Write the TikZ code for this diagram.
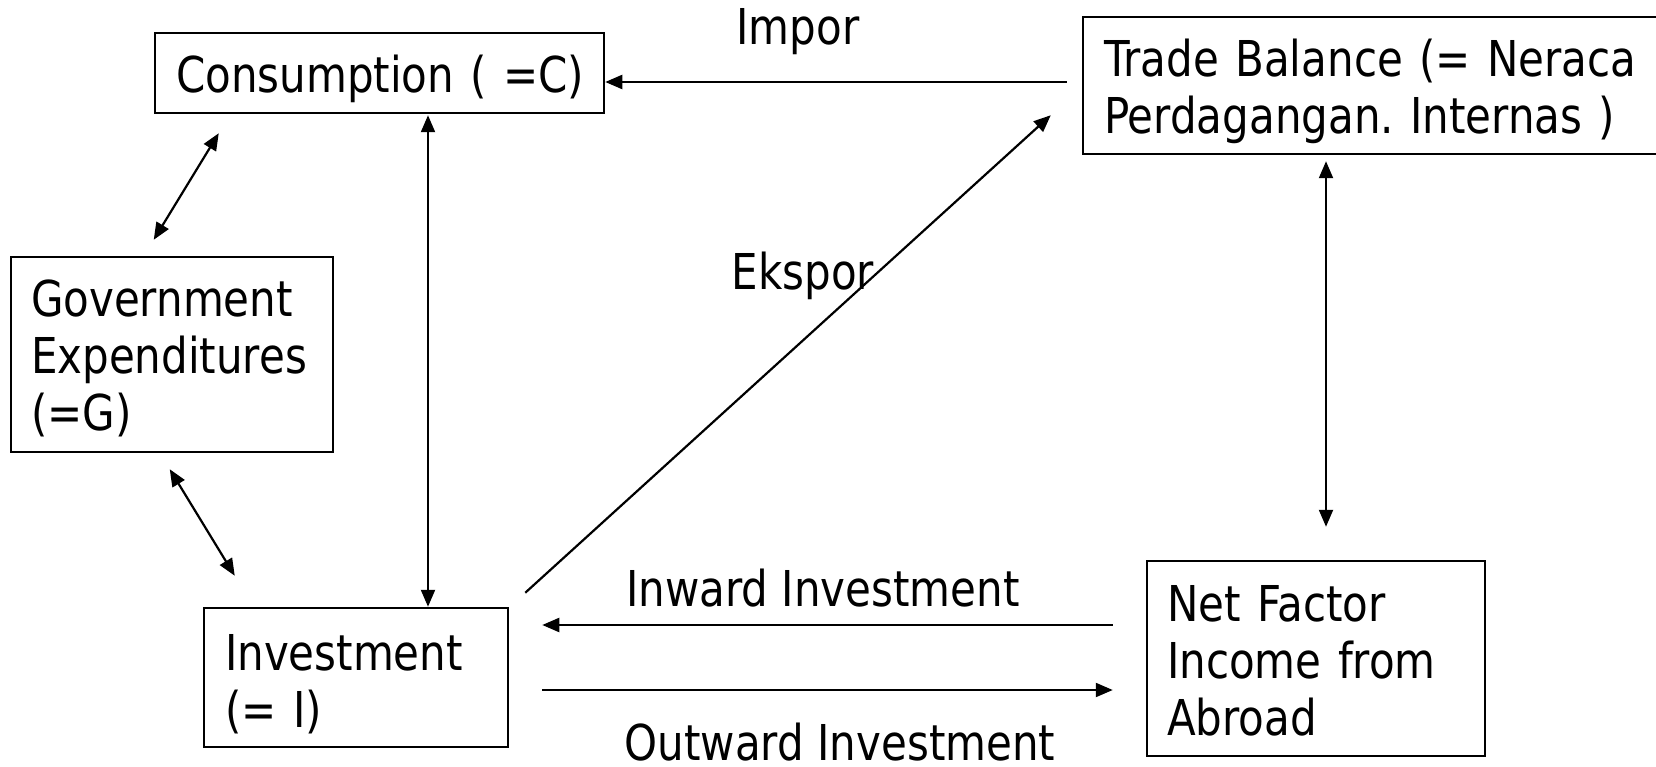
\documentclass[tikz,border=0pt]{standalone}
\usepackage{fontspec}
\setmainfont{DejaVu Sans}[FakeStretch=0.85]
\usetikzlibrary{arrows.meta}
\frenchspacing
\begin{document}
\begin{tikzpicture}[x=1pt,y=-1pt,
  box/.style={draw, line width=2.5pt, rectangle, align=left, inner xsep=20pt, inner ysep=0pt,
    font=\fontsize{49.4}{57}\selectfont},
  arr/.style={line width=2.2pt, -{Triangle[length=17pt,width=14pt]}},
  darr/.style={line width=2.2pt, {Triangle[length=17pt,width=14pt]}-{Triangle[length=17pt,width=14pt]}},
  lbl/.style={font=\fontsize{49.4}{57}\selectfont, inner sep=0pt, anchor=base}]
\useasboundingbox (0,0) rectangle (1656,767);
\clip (0,0) rectangle (1656,767);

\node[box, minimum width=449pt, minimum height=80pt, text width=407pt] (cons) at (379.5,73)
  {\rule{0pt}{49.5pt}\mbox{Consumption ( =C)}};
\node[box, minimum width=579pt, minimum height=137pt, text width=537pt] (trade) at (1372.5,85.5)
  {\rule{0pt}{49pt}\mbox{Trade Balance (= Neraca}\\\mbox{Perdagangan. Internas )}};
\node[box, minimum width=320pt, minimum height=195pt, text width=282pt] (gov) at (172,354.5)
  {\rule{0pt}{45.5pt}\mbox{Government}\\\mbox{Expenditures}\\\mbox{(=G)}};
\node[box, minimum width=304pt, minimum height=139pt, text width=262pt] (inv) at (356,677.5)
  {\rule{0pt}{49.5pt}\mbox{Investment}\\\mbox{(= I)}};
\node[box, minimum width=336pt, minimum height=195pt, text width=298pt] (nfi) at (1316,658.5)
  {\rule{0pt}{41.5pt}\mbox{Net Factor}\\\mbox{Income from}\\\mbox{Abroad}};

\node[lbl] (impor) at (798,45) {Impor};
\node[lbl] (ekspor) at (803,289) {Ekspor};
\node[lbl] (inward) at (823,606) {Inward Investment};
\node[lbl] (outward) at (840,760) {Outward Investment};

% Impor
\draw[arr, shorten <=15pt] ([yshift=3.5pt]trade.west) -- ([yshift=-9pt]cons.east);
% Ekspor
\draw[arr] ([xshift=16pt,yshift=14pt]inv.north east) -- ([xshift=-31pt,yshift=40pt]trade.south west);
% Consumption <-> Government
\draw[darr] ([xshift=65pt,yshift=-19pt]cons.south west) -- ([xshift=144pt,yshift=16pt]gov.north west);
% Government <-> Investment
\draw[darr] ([xshift=160pt,yshift=-16pt]gov.south west) -- ([xshift=32pt,yshift=31pt]inv.north west);
% Consumption <-> Investment
\draw[darr] ([xshift=48.5pt,yshift=-1pt]cons.south) -- ([xshift=72pt]inv.north);
% Trade <-> NFI
\draw[darr] ([xshift=-46.5pt,yshift=-6pt]trade.south) -- ([xshift=10pt,yshift=33pt]nfi.north);
% Inward
\draw[arr] ([xshift=-33pt,yshift=33.5pt]nfi.west) -- ([xshift=33pt,yshift=52.5pt]inv.east);
% Outward
\draw[arr] ([xshift=33pt,yshift=-12.5pt]inv.east) -- ([xshift=-33pt,yshift=-31.5pt]nfi.west);
\end{tikzpicture}
\end{document}
